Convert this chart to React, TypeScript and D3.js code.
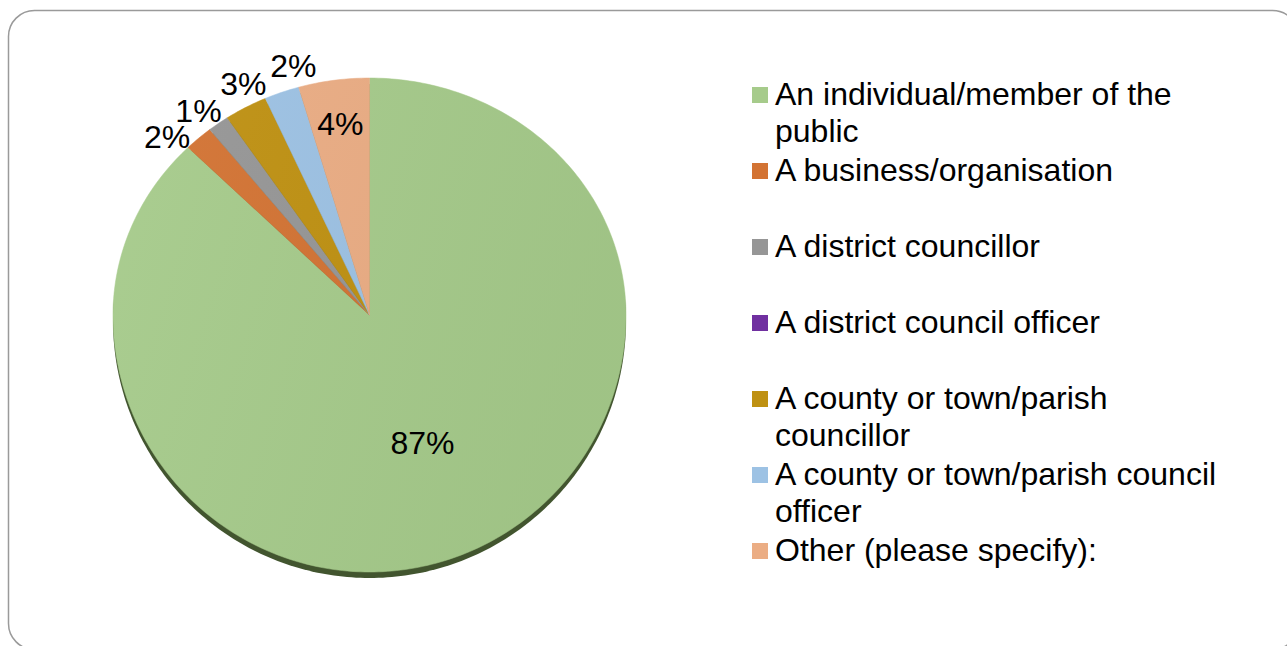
import React from "react";
import * as d3 from "d3";

const categories = [
  "An individual/member of the public",
  "A business/organisation",
  "A district councillor",
  "A district council officer",
  "A county or town/parish councillor",
  "A county or town/parish council officer",
  "Other (please specify):",
];
const values = [87.45, 1.8, 1.35, 0, 2.7, 2.2, 4.45];
const colors = ["#A6CB8B", "#D37333", "#969696", "#7030A0", "#BF9112", "#9DC2E4", "#EBAD84"];

const W = 1287;
const H = 646;
const cx = 369.5;
const cy = 315;
const R = 256.5;
const ryTop = 237;
const ryBot = 257;
const depth = 6;
const FONT = "'Liberation Sans', Arial, sans-serif";
const labelSize = 32;
const legendSize = 32;

function mapPt(theta: number, r: number): [number, number] {
  const s = Math.sin(theta);
  const c = Math.cos(theta);
  const ry = c > 0 ? ryTop : ryBot;
  return [cx + r * s, cy - (r / R) * ry * c];
}

function arcPoints(a0: number, a1: number, r: number): [number, number][] {
  const n = Math.max(2, Math.ceil(((a1 - a0) * 180) / Math.PI));
  const pts: [number, number][] = [];
  for (let i = 0; i <= n; i++) pts.push(mapPt(a0 + ((a1 - a0) * i) / n, r));
  return pts;
}

let ctxCache: CanvasRenderingContext2D | null = null;
function measure(text: string, size: number): number {
  if (!ctxCache) ctxCache = document.createElement("canvas").getContext("2d")!;
  ctxCache.font = `${size}px 'Liberation Sans'`;
  return ctxCache.measureText(text).width;
}

function wrap(text: string, maxW: number): string[] {
  const words = text.split(" ");
  const lines: string[] = [];
  let cur = "";
  for (const w of words) {
    const t = cur ? cur + " " + w : w;
    if (measure(t, legendSize) > maxW && cur) {
      lines.push(cur);
      cur = w;
    } else cur = t;
  }
  if (cur) lines.push(cur);
  return lines;
}

export default function App() {
  const pie = d3.pie<number>().sort(null).value((d) => d)(values);
  const line = d3.line().curve(d3.curveLinearClosed);

  const sidePath = line(arcPoints(0, Math.PI * 2, R).map(([x, y]) => [x, y + depth] as [number, number]))!;

  const slices = pie.map((p, i) => {
    if (p.endAngle - p.startAngle <= 0) return null;
    const pts: [number, number][] = [[cx, cy], ...arcPoints(p.startAngle, p.endAngle, R)];
    return <path key={i} d={line(pts)!} fill={colors[i]} stroke={colors[i]} strokeWidth={0.5} />;
  });

  // label placement
  type L = { i: number; text: string; a: number; f: number; w: number; h: number; out: boolean };
  const items: L[] = [];
  pie.forEach((p, i) => {
    if (values[i] <= 0) return;
    const mid = (p.startAngle + p.endAngle) / 2;
    const span = p.endAngle - p.startAngle;
    const out = values[i] < 4;
    const f = out ? 1.09 : span > Math.PI / 2 ? 0.54 : 0.815;
    const text = Math.round(values[i]) + "%";
    items.push({ i, text, a: mid, f, w: measure(text, labelSize), h: labelSize * 0.72, out });
  });
  const outs = items.filter((d) => d.out).sort((a, b) => a.a - b.a);
  const step = (0.2 * Math.PI) / 180;
  const pad = 3;
  for (let iter = 0; iter < 400; iter++) {
    let moved = false;
    for (let j = 0; j < outs.length - 1; j++) {
      const A = outs[j];
      const B = outs[j + 1];
      const [ax, ay] = mapPt(A.a, R * A.f);
      const [bx, by] = mapPt(B.a, R * B.f);
      const ox = Math.abs(ax - bx) < (A.w + B.w) / 2 + pad;
      const oy = Math.abs(ay - by) < (A.h + B.h) / 2 + pad;
      if (ox && oy) {
        A.a -= step;
        B.a += step;
        moved = true;
      }
    }
    if (!moved) break;
  }

  const labels = items.map((d) => {
    const [x, y] = mapPt(d.a, R * d.f);
    return (
      <text
        key={d.i}
        x={x}
        y={y}
        textAnchor="middle"
        dominantBaseline="central"
        fontFamily={FONT}
        fontSize={labelSize}
        fill="#000"
      >
        {d.text}
      </text>
    );
  });

  const legendX = 752;
  const legendY0 = 95;
  const rowStep = 76;
  const lineH = 36.5;
  const legend = categories.map((c, i) => {
    const yc = legendY0 + i * rowStep;
    const lines = wrap(c, 462);
    return (
      <g key={i}>
        <rect x={legendX} y={yc - 8} width={16} height={16} fill={colors[i]} />
        <text x={775} y={yc + 10} fontFamily={FONT} fontSize={legendSize} fill="#000">
          {lines.map((l, j) => (
            <tspan key={j} x={775} dy={j === 0 ? 0 : lineH}>
              {l}
            </tspan>
          ))}
        </text>
      </g>
    );
  });

  return (
    <svg
      width={W}
      height={H}
      style={{ position: "absolute", left: 0, top: 0 }}
      xmlns="http://www.w3.org/2000/svg"
    >
      <defs>
        <linearGradient id="shade" x1="0" y1="0" x2="1" y2="0.3">
          <stop offset="0" stopColor="#fff" stopOpacity={0.05} />
          <stop offset="1" stopColor="#000" stopOpacity={0.04} />
        </linearGradient>
      </defs>
      <rect x={0} y={0} width={W} height={H} fill="#fff" />
      <rect x={8.5} y={10.5} width={1290} height={639} rx={26} ry={26} fill="#fff" stroke="#9a9a9a" strokeWidth={1.5} />
      <path d={sidePath} fill="#42552F" />
      {slices}
      <path d={line(arcPoints(0, Math.PI * 2, R))!} fill="url(#shade)" />
      {labels}
      {legend}
    </svg>
  );
}
